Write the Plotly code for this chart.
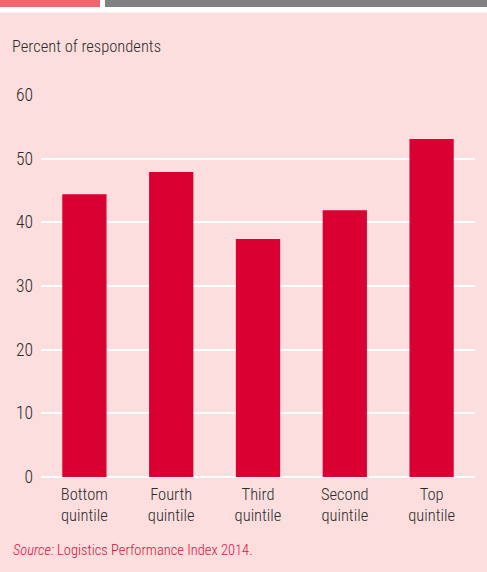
import plotly.graph_objects as go

categories = ["Bottom<br>quintile", "Fourth<br>quintile", "Third<br>quintile", "Second<br>quintile", "Top<br>quintile"]
values = [44.4, 47.9, 37.4, 41.9, 53.1]
y_ticks = [0, 10, 20, 30, 40, 50, 60]

FONT = "Roboto Condensed, Liberation Sans Narrow, Roboto, sans-serif"
BG = "#fddede"
BAR = "#da0032"
TXT = "#2b2b2b"

W, H = 487, 572
L, R, T, B = 41, 12, 95, 95
pw, ph = W - L - R, H - T - B

def px(x):
    return (x - L) / pw

def py(y):
    return (H - B - y) / ph

fig = go.Figure(go.Bar(x=categories, y=values, marker=dict(color=BAR, line=dict(width=0)),
                       hoverinfo="skip"))

fig.update_layout(
    width=W, height=H,
    margin=dict(l=L, r=R, t=T, b=B),
    paper_bgcolor=BG, plot_bgcolor=BG,
    bargap=0.49,
    showlegend=False,
    font=dict(family=FONT, color=TXT, size=17, weight=300),
    xaxis=dict(showgrid=False, showline=False, zeroline=False, ticks="",
               tickfont=dict(size=16.5, color=TXT, weight=300), ticklabelstandoff=5),
    yaxis=dict(range=[0, 60], tickvals=y_ticks, showgrid=True, gridcolor="white", gridwidth=2,
               zeroline=True, zerolinecolor="white", zerolinewidth=2, showline=False, ticks="",
               tickfont=dict(size=17.5, color=TXT, weight=300), ticklabelstandoff=7),
    shapes=[
        dict(type="rect", xref="paper", yref="paper", x0=px(0), x1=px(W), y0=py(0), y1=py(12.5),
             fillcolor="white", line=dict(width=0), layer="above"),
        dict(type="rect", xref="paper", yref="paper", x0=px(0), x1=px(100), y0=py(0), y1=py(7),
             fillcolor="#f4646e", line=dict(width=0), layer="above"),
        dict(type="rect", xref="paper", yref="paper", x0=px(105), x1=px(W), y0=py(0), y1=py(7),
             fillcolor="#808085", line=dict(width=0), layer="above"),
    ],
    annotations=[
        dict(text="Percent of respondents", xref="paper", yref="paper", x=px(10), y=py(46),
             xanchor="left", yanchor="middle", showarrow=False,
             font=dict(size=16.5, color=TXT, weight=300)),
        dict(text="<i>Source:</i> Logistics Performance Index 2014.", xref="paper", yref="paper",
             x=px(11), y=py(550), xanchor="left", yanchor="middle", showarrow=False,
             font=dict(size=14.5, color="#d8103c", weight=300)),
    ],
)

fig.write_html("out.html", config={"displayModeBar": False},
               post_script="document.body.style.margin='0';")
